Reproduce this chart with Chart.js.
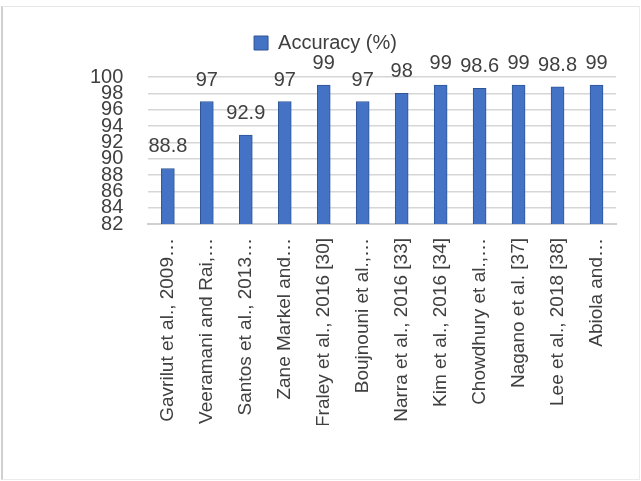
<!DOCTYPE html>
<html>
<head>
<meta charset="utf-8">
<script src="https://cdn.jsdelivr.net/npm/chart.js@4/dist/chart.umd.min.js"></script>
<style>
  html, body { margin: 0; padding: 0; background: #fff; }
  #wrap { position: relative; width: 641px; height: 481px; }
  #frame {
    position: absolute; left: 1px; top: 6px; width: 636px; height: 472px;
    border-left: 2px solid #d0d0d0; border-top: 1px solid #e6e6e6;
    border-right: 1px solid #ececec; border-bottom: 1px solid #ececec;
    pointer-events: none;
  }
</style>
</head>
<body>
<div id="wrap">
  <canvas id="accChart" width="641" height="481"></canvas>
  <div id="frame"></div>
</div>
<script>
const studies = [
  'Gavrilut et al., 2009…',
  'Veeramani and Rai,…',
  'Santos et al., 2013…',
  'Zane Markel and…',
  'Fraley et al., 2016 [30]',
  'Boujnouni et al.,…',
  'Narra et al., 2016 [33]',
  'Kim et al., 2016 [34]',
  'Chowdhury et al.,…',
  'Nagano et al. [37]',
  'Lee et al., 2018 [38]',
  'Abiola and…'
];
const accuracy = [88.8, 97, 92.9, 97, 99, 97, 98, 99, 98.6, 99, 98.8, 99];
const yTicks = [82, 84, 86, 88, 90, 92, 94, 96, 98, 100];

const FONT = "'Liberation Sans', Arial, sans-serif";
const TEXT = '#404040';

// value labels drawn above each bar
const barValues = {
  id: 'barValues',
  afterDatasetsDraw(chart) {
    const ctx = chart.ctx;
    const meta = chart.getDatasetMeta(0);
    ctx.save();
    ctx.font = '20px ' + FONT;
    ctx.fillStyle = TEXT;
    ctx.textAlign = 'center';
    ctx.textBaseline = 'alphabetic';
    meta.data.forEach((bar, i) => {
      ctx.fillText(String(chart.data.datasets[0].data[i]), bar.x, bar.y - 16);
    });
    ctx.restore();
  }
};

// extra room under the legend, and nudge it a little to the left
const legendGap = {
  id: 'legendGap',
  beforeInit(chart) {
    const fit = chart.legend.fit;
    chart.legend.fit = function () {
      fit.call(this);
      this.height += 14;
    };
  },
  afterLayout(chart) {
    chart.legend.left -= 15;
    chart.legend.right -= 15;
  }
};

new Chart('accChart', {
  type: 'bar',
  data: {
    labels: studies,
    datasets: [{
      label: 'Accuracy (%)',
      data: accuracy,
      backgroundColor: '#4472C4',
      borderColor: '#2F5597',
      borderWidth: 1,
      barThickness: 13
    }]
  },
  options: {
    responsive: false,
    animation: false,
    layout: { padding: { top: 23, left: 65, right: 25, bottom: 56 } },
    scales: {
      y: {
        min: 82,
        max: 100,
        afterBuildTicks(axis) {
          axis.ticks = yTicks.map(v => ({ value: v }));
        },
        grid: { color: '#d6d6d6', lineWidth: 1.5, drawTicks: false },
        border: { display: false },
        ticks: {
          autoSkip: false,
          padding: 25,
          color: TEXT,
          font: { family: FONT, size: 20 }
        }
      },
      x: {
        grid: { display: false },
        border: { color: '#d0d0d0', width: 2 },
        ticks: {
          autoSkip: false,
          minRotation: 90,
          maxRotation: 90,
          padding: 6,
          color: TEXT,
          font: { family: FONT, size: 19 }
        }
      }
    },
    plugins: {
      legend: {
        display: true,
        position: 'top',
        labels: {
          boxWidth: 14,
          boxHeight: 14,
          color: TEXT,
          font: { family: FONT, size: 20 }
        }
      },
      tooltip: { enabled: false }
    }
  },
  plugins: [barValues, legendGap]
});
</script>
</body>
</html>
